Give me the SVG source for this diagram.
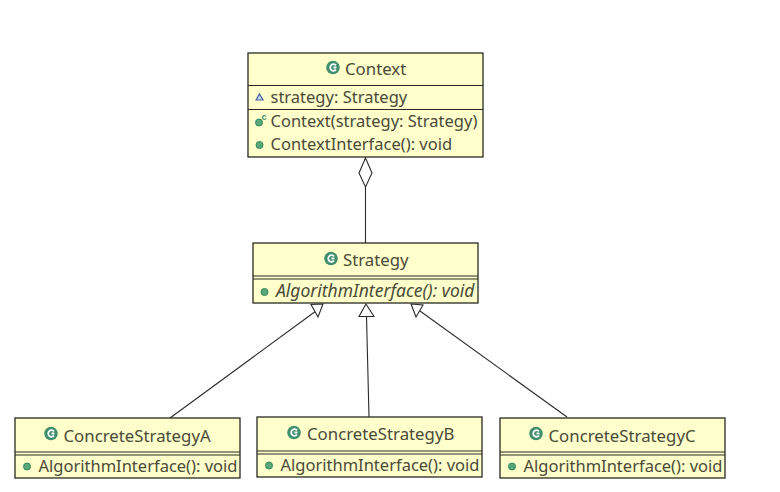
<svg xmlns="http://www.w3.org/2000/svg" width="780" height="492" viewBox="0 0 780 492">
<style>
.box{fill:#ffffcc;stroke:#2a2a22;stroke-width:1.3}
.div{stroke:#2a2a22;stroke-width:1.2;fill:none}
.t{font-family:"Noto Sans","Open Sans","Liberation Sans",sans-serif;font-size:16.800px;fill:#4a4a38}
.m{font-size:16.500px}
.i{font-style:italic;font-size:17.500px}
.dot{fill:#5aa77a;stroke:#2f8a5c;stroke-width:1}
.cls{fill:#3f8f6c}
.cl{fill:none;stroke:#fff;stroke-width:1.8}
.conn{fill:none;stroke:#2a2a2a;stroke-width:1.1}
.head{fill:#fff;stroke:#2a2a2a;stroke-width:1.1}
</style>
<defs>
<g id="c"><circle r="6.800" class="cls"/><path class="cl" d="M3 -2.2A3.3 3.3 0 1 0 3 2.2M0.5 0H3.4"/></g>
</defs>
<rect width="780" height="492" fill="#fff"/>
<g id="connectors">
<path class="conn" d="M365.500 187V243"/>
<path class="head" d="M365.500 158L372 173L365.500 187L359 173Z"/>
<path class="conn" d="M316 311L170 418"/>
<path class="head" d="M323 304L311 304.500L318 317Z"/>
<path class="conn" d="M366.500 316L369 417"/>
<path class="head" d="M366 304L359 316.500H374Z"/>
<path class="conn" d="M420 311L567 417"/>
<path class="head" d="M411 304L423 305L416 317Z"/>
</g>
<g id="node-context">
<rect class="box" x="248" y="53" width="235" height="104"/>
<path class="div" d="M248 85.500H483M248 109.500H483"/>
<use href="#c" x="333" y="67.500"/>
<text class="t" x="345" y="75">Context</text>
<path d="M256 100L259.500 94L263 100Z" fill="#cfd8f0" stroke="#3f5a9a" stroke-width="1.200"/>
<text class="t m" x="270.500" y="103">strategy: Strategy</text>
<circle class="dot" cx="259" cy="122.500" r="3.500"/>
<text x="261.500" y="119.500" font-family="Liberation Sans,sans-serif" font-size="9" font-weight="bold" fill="#3f8f6c">c</text>
<text class="t m" x="270.500" y="127">Context(strategy: Strategy)</text>
<circle class="dot" cx="259.500" cy="145" r="3.500"/>
<text class="t m" x="270.500" y="150">ContextInterface(): void</text>
</g>
<g id="node-strategy">
<rect class="box" x="253" y="243" width="225" height="60"/>
<path class="div" d="M253 276H478M253 279H478"/>
<use href="#c" x="331" y="258.500"/>
<text class="t" x="343" y="266">Strategy</text>
<circle class="dot" cx="264.500" cy="292" r="3.500"/>
<text class="t i" x="276" y="297">AlgorithmInterface(): void</text>
</g>
<g id="node-a">
<rect class="box" x="15" y="418" width="225" height="60"/>
<path class="div" d="M15 452H240M15 455H240"/>
<use href="#c" x="51" y="433.500"/>
<text class="t" x="63.500" y="441.500">ConcreteStrategyA</text>
<circle class="dot" cx="27" cy="466.500" r="3.500"/>
<text class="t m" x="38.500" y="472">AlgorithmInterface(): void</text>
</g>
<g id="node-b">
<rect class="box" x="257" y="417" width="225" height="60"/>
<path class="div" d="M257 451H482M257 454H482"/>
<use href="#c" x="294" y="432.500"/>
<text class="t" x="307" y="440">ConcreteStrategyB</text>
<circle class="dot" cx="269" cy="465.500" r="3.500"/>
<text class="t m" x="280.500" y="471">AlgorithmInterface(): void</text>
</g>
<g id="node-c">
<rect class="box" x="500" y="418" width="225" height="60"/>
<path class="div" d="M500 452H725M500 455H725"/>
<use href="#c" x="536" y="433.500"/>
<text class="t" x="548.500" y="441.500">ConcreteStrategyC</text>
<circle class="dot" cx="512" cy="466.500" r="3.500"/>
<text class="t m" x="523.500" y="472">AlgorithmInterface(): void</text>
</g>
</svg>
